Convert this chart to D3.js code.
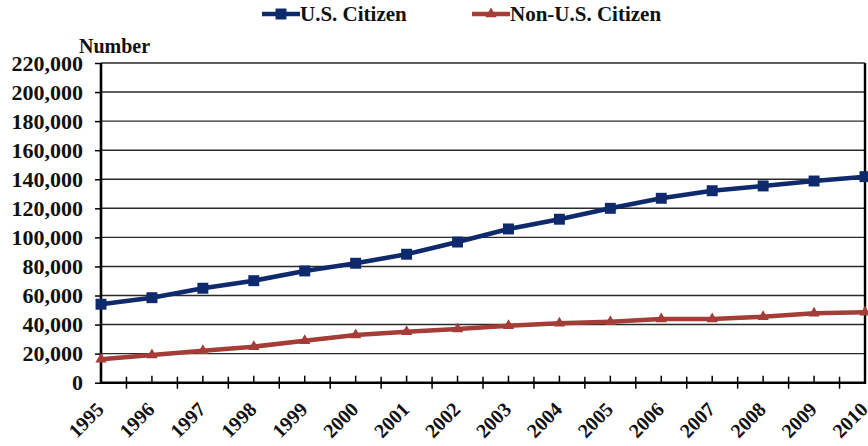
<!DOCTYPE html>
<html>
<head>
<meta charset="utf-8">
<script src="https://cdn.jsdelivr.net/npm/d3@7"></script>
<style>
  html, body { margin: 0; padding: 0; background: #ffffff; }
  svg { display: block; }
  svg text { font-family: "Liberation Serif", "Tinos", "DejaVu Serif", serif !important; font-weight: bold; fill: #111; }
</style>
</head>
<body>
<svg id="chart" width="868" height="446"></svg>
<script>
// Years on the category axis
const years = ["1995","1996","1997","1998","1999","2000","2001","2002",
               "2003","2004","2005","2006","2007","2008","2009","2010"];

// Counts per year
const usCitizen = [54000, 58500, 65000, 70200, 76900, 82200, 88400, 96800,
                   105800, 112500, 120000, 126900, 132100, 135400, 138800, 141800];
const nonUsCitizen = [16100, 19100, 22000, 24800, 28900, 32800, 35100, 37000,
                      39200, 40900, 42000, 43800, 43800, 45400, 47800, 48400];

const yTicks = [0, 20000, 40000, 60000, 80000, 100000, 120000, 140000,
                160000, 180000, 200000, 220000];

const seriesNames = ["U.S. Citizen", "Non-U.S. Citizen"];

const svg = d3.select("#chart");

const plotLeft = 101, plotRight = 865, plotTop = 63, plotBottom = 382.7;

const x = d3.scalePoint().domain(years).range([plotLeft, plotRight]);
const y = d3.scaleLinear().domain([0, 220000]).range([plotBottom, plotTop]);
const step = x.step();

// Horizontal gridlines
svg.append("g").selectAll("line")
  .data(yTicks.filter(d => d > 0))
  .join("line")
  .attr("x1", plotLeft).attr("x2", plotRight)
  .attr("y1", d => y(d)).attr("y2", d => y(d))
  .attr("stroke", "#2a2a2a").attr("stroke-width", 1.4);

// Y axis with outward ticks
const yAxis = d3.axisLeft(y).tickValues(yTicks).tickSize(6).tickPadding(12)
  .tickFormat(d3.format(","));
const gy = svg.append("g").attr("transform", `translate(${plotLeft},0)`).call(yAxis);
gy.attr("font-family", null).attr("font-size", null);
gy.select(".domain").remove();
gy.selectAll(".tick line").attr("stroke", "#000").attr("stroke-width", 1.5);
gy.selectAll(".tick text").style("font-size", "22px").attr("fill", "#1a1a1a");

// Frame: left and bottom axes, right border
svg.append("line").attr("x1", plotLeft).attr("x2", plotLeft).attr("y1", plotTop).attr("y2", plotBottom + 1)
  .attr("stroke", "#000").attr("stroke-width", 2.6);
svg.append("line").attr("x1", plotRight).attr("x2", plotRight).attr("y1", plotTop).attr("y2", plotBottom + 1)
  .attr("stroke", "#000").attr("stroke-width", 2.4);
svg.append("line").attr("x1", plotLeft - 1).attr("x2", plotRight + 1).attr("y1", plotBottom).attr("y2", plotBottom)
  .attr("stroke", "#000").attr("stroke-width", 2.6);

// X axis ticks: short inner ticks at each year, crossing ticks between years
const gx = svg.append("g");
gx.selectAll("line.yr")
  .data(years.slice(1, -1))
  .join("line").attr("class", "yr")
  .attr("x1", d => x(d)).attr("x2", d => x(d))
  .attr("y1", plotBottom - 7).attr("y2", plotBottom)
  .attr("stroke", "#000").attr("stroke-width", 1.5);
gx.selectAll("line.mid")
  .data(years.slice(0, -1))
  .join("line").attr("class", "mid")
  .attr("x1", d => x(d) + step / 2).attr("x2", d => x(d) + step / 2)
  .attr("y1", plotBottom - 6).attr("y2", plotBottom + 6)
  .attr("stroke", "#000").attr("stroke-width", 1.5);

// Rotated year labels
gx.selectAll("text")
  .data(years)
  .join("text")
  .attr("transform", d => `translate(${x(d) + 4},${plotBottom + 28}) rotate(-45)`)
  .attr("text-anchor", "end")
  .style("font-size", "20px")
  .text(d => d);

// Axis title
svg.append("text").attr("x", 79).attr("y", 53).style("font-size", "20px").text("Number");

const blue = "#0e2a6c", red = "#a43c37";

const line = d3.line().x((d, i) => x(years[i])).y(d => y(d));

svg.append("path").datum(nonUsCitizen).attr("d", line)
  .attr("fill", "none").attr("stroke", red).attr("stroke-width", 4.5)
  .attr("stroke-linejoin", "round");
svg.append("path").datum(usCitizen).attr("d", line)
  .attr("fill", "none").attr("stroke", blue).attr("stroke-width", 4.5)
  .attr("stroke-linejoin", "round");

const tri = d3.symbol().type(d3.symbolTriangle).size(55);
const sq = d3.symbol().type(d3.symbolSquare).size(120);

svg.append("g").selectAll("path")
  .data(nonUsCitizen).join("path")
  .attr("d", tri)
  .attr("transform", (d, i) => `translate(${x(years[i])},${y(d)})`)
  .attr("fill", red);
svg.append("g").selectAll("path")
  .data(usCitizen).join("path")
  .attr("d", sq)
  .attr("transform", (d, i) => `translate(${x(years[i])},${y(d)})`)
  .attr("fill", blue);

// Legend
const legend = [
  { name: seriesNames[0], color: blue, sym: sq, x0: 262, x1: 300 },
  { name: seriesNames[1], color: red, sym: tri, x0: 472, x1: 510 }
];
const lg = svg.append("g");
legend.forEach(l => {
  lg.append("line").attr("x1", l.x0).attr("x2", l.x1).attr("y1", 14).attr("y2", 14)
    .attr("stroke", l.color).attr("stroke-width", 4.5);
  lg.append("path").attr("d", l.sym)
    .attr("transform", `translate(${(l.x0 + l.x1) / 2},14)`).attr("fill", l.color);
  lg.append("text").attr("x", l.x1).attr("y", 21).style("font-size", "21px").text(l.name);
});
</script>
</body>
</html>
